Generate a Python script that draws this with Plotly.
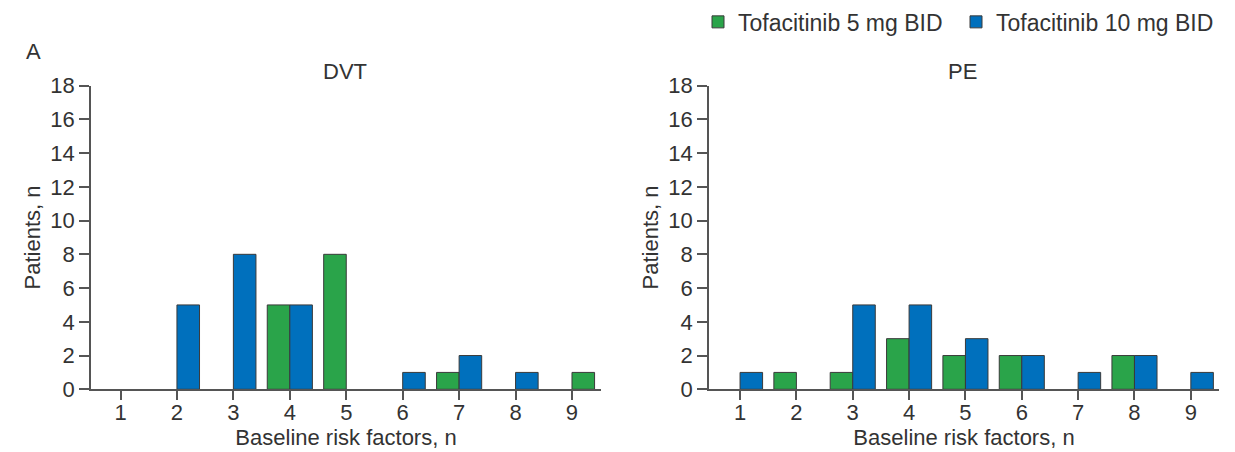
import plotly.graph_objects as go

# Number of baseline risk factors
risk_factors = [1, 2, 3, 4, 5, 6, 7, 8, 9]

# Patients with DVT, by dose
dvt_5mg = [0, 0, 0, 5, 8, 0, 1, 0, 1]
dvt_10mg = [0, 5, 8, 5, 0, 1, 2, 1, 0]

# Patients with PE, by dose
pe_5mg = [0, 1, 1, 3, 2, 2, 0, 2, 0]
pe_10mg = [1, 0, 5, 5, 3, 2, 1, 2, 1]

y_ticks = list(range(0, 19, 2))

GREEN = "#2aa44a"
BLUE = "#0070bd"
EDGE = "#3a3a3a"
TEXT = "#333333"
AXIS = "#555555"
FONT = "Liberation Sans"
FS = 22
W, H = 1235, 452
BAR_W = 0.4


def nz(vals):
    # empty categories get no bar at all
    return [v if v else None for v in vals]


fig = go.Figure()

# the DVT 5 mg bar at 9 factors sits on the right-hand side of its tick
dvt_green_offset = [-BAR_W] * 8 + [0]
panels = [
    ("x", "y", dvt_5mg, dvt_10mg, dvt_green_offset, True),
    ("x2", "y2", pe_5mg, pe_10mg, [-BAR_W] * 9, False),
]
for xa, ya, g, b, g_off, show in panels:
    fig.add_trace(go.Bar(
        x=risk_factors, y=nz(g), name="Tofacitinib 5 mg BID",
        width=BAR_W, offset=g_off,
        marker=dict(color=GREEN, line=dict(color=EDGE, width=1)),
        xaxis=xa, yaxis=ya, showlegend=show, legendgroup="5",
    ))
    fig.add_trace(go.Bar(
        x=risk_factors, y=nz(b), name="Tofacitinib 10 mg BID",
        width=BAR_W, offset=0,
        marker=dict(color=BLUE, line=dict(color=EDGE, width=1)),
        xaxis=xa, yaxis=ya, showlegend=show, legendgroup="10",
    ))

# pixel extents of the two plot areas
left_px = (91, 601)
right_px = (709, 1219)
bottom_px, top_px = 389, 84


def xdom(p):
    return [p[0] / W, p[1] / W]


ydom = [1 - bottom_px / H, 1 - top_px / H]
tfont = dict(size=FS, color=TEXT, family=FONT)

xcommon = dict(
    tickvals=risk_factors, ticks="outside", ticklen=9,
    tickwidth=1.5, tickcolor=AXIS, showline=True, linecolor=AXIS,
    linewidth=1.5, showgrid=False, zeroline=False, automargin=False,
    tickfont=tfont, ticklabelstandoff=-6,
    title=dict(text="Baseline risk factors, n", standoff=4, font=tfont),
)
ycommon = dict(
    range=[0, 18], tickvals=y_ticks, ticks="outside", ticklen=10,
    tickwidth=1.5, tickcolor=AXIS, showline=True, linecolor=AXIS,
    linewidth=1.5, showgrid=False, zeroline=False, domain=ydom,
    automargin=False, tickfont=tfont,
    title=dict(text="Patients, n", standoff=4, font=tfont),
)

fig.update_layout(
    width=W, height=H,
    margin=dict(l=0, r=0, t=0, b=0),
    paper_bgcolor="white", plot_bgcolor="white",
    barmode="overlay",
    xaxis=dict(domain=xdom(left_px), anchor="y", range=[0.477, 9.514], **xcommon),
    yaxis=dict(anchor="x", **ycommon),
    xaxis2=dict(domain=xdom(right_px), anchor="y2", range=[0.449, 9.50], **xcommon),
    yaxis2=dict(anchor="x2", **ycommon),
    legend=dict(
        orientation="h", x=698 / W, xanchor="left", y=1 - 20 / H,
        yanchor="middle", font=dict(size=23, color=TEXT, family=FONT),
        itemwidth=30, entrywidth=213, entrywidthmode="pixels",
        bgcolor="rgba(0,0,0,0)", tracegroupgap=0,
    ),
    font=dict(family=FONT, color=TEXT),
    annotations=[
        dict(text="A", x=24 / W, y=1 - 50 / H, xref="paper", yref="paper",
             xanchor="left", yanchor="middle", showarrow=False, font=tfont),
        dict(text="DVT", x=345 / W, y=1 - 70 / H, xref="paper",
             yref="paper", xanchor="center", yanchor="middle", showarrow=False,
             font=tfont),
        dict(text="PE", x=962 / W, y=1 - 70 / H,
             xref="paper", yref="paper", xanchor="center", yanchor="middle",
             showarrow=False, font=tfont),
    ],
)

fig.write_html("out.html")
